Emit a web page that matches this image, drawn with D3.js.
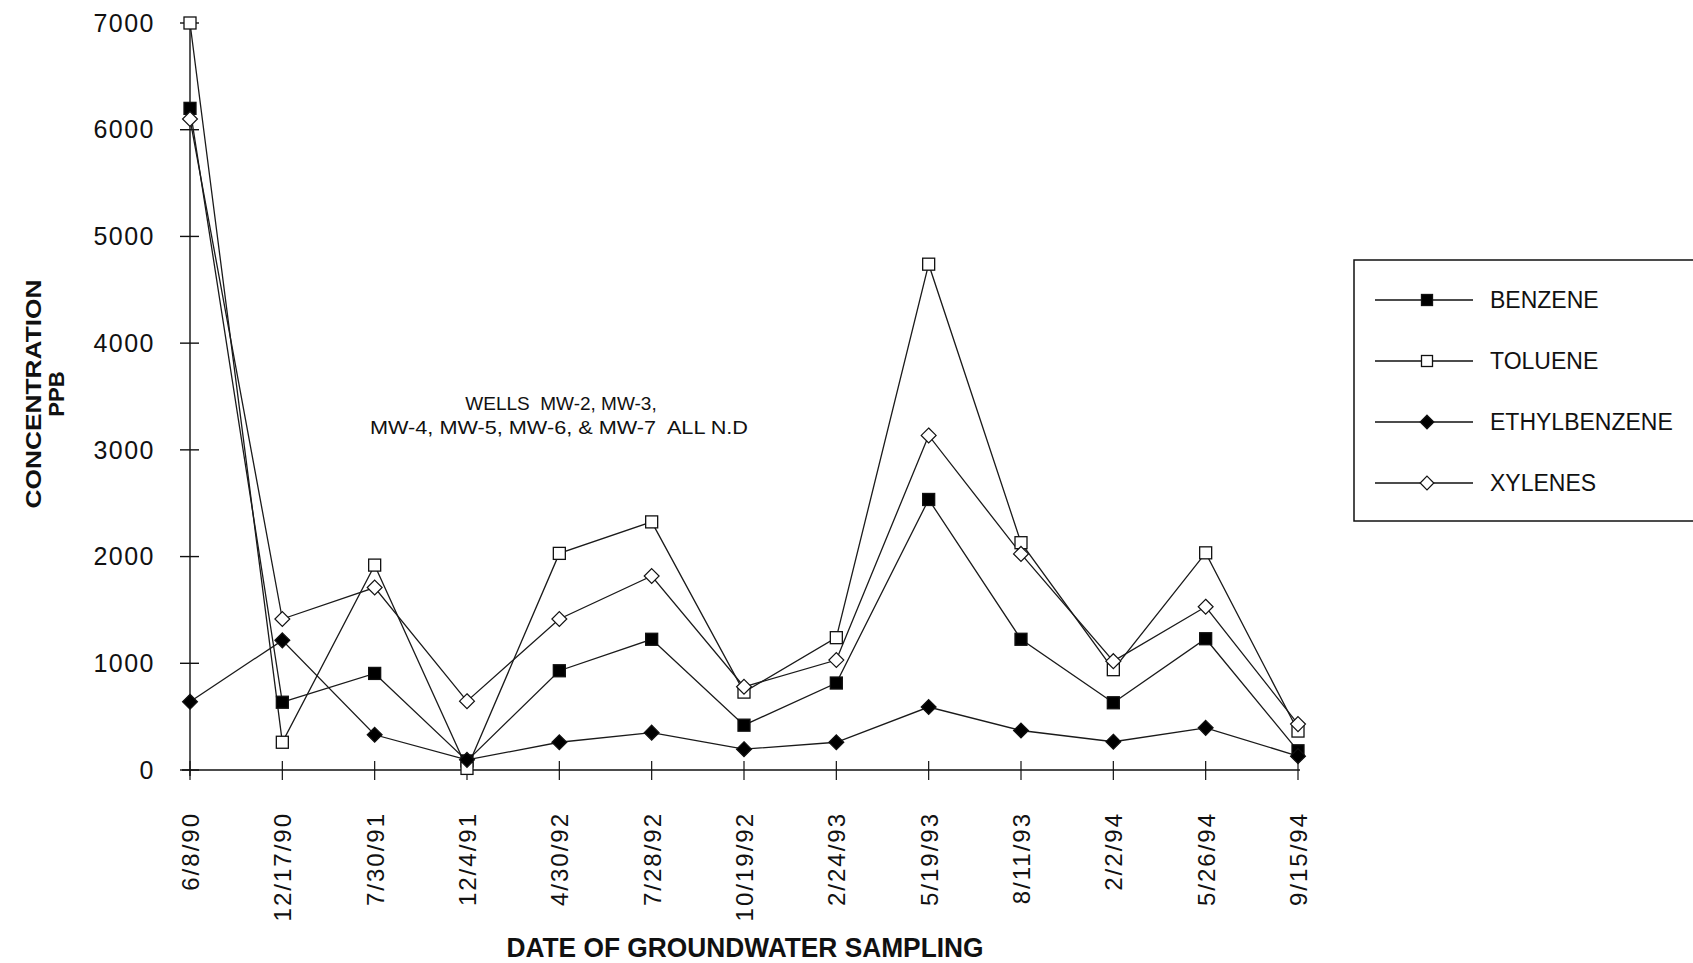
<!DOCTYPE html>
<html>
<head>
<meta charset="utf-8">
<script src="https://cdn.jsdelivr.net/npm/d3@7"></script>
<style>
  html, body { margin: 0; padding: 0; background: #fff; }
  svg { display: block; }
  text { font-family: "Liberation Sans", Arial, Helvetica, sans-serif; fill: #111; }
</style>
</head>
<body>
<svg id="chart" width="1693" height="963"></svg>
<script>
// ---- data ----
const dates = ["6/8/90","12/17/90","7/30/91","12/4/91","4/30/92","7/28/92","10/19/92","2/24/93","5/19/93","8/11/93","2/2/94","5/26/94","9/15/94"];
const benzene      = [6200, 635, 905, 85, 930, 1225, 420, 815, 2535, 1225, 630, 1230, 180];
const toluene      = [7000, 260, 1920, 15, 2030, 2325, 730, 1240, 4740, 2130, 940, 2035, 365];
const ethylbenzene = [640, 1215, 330, 95, 260, 350, 195, 260, 590, 370, 265, 395, 130];
const xylenes      = [6100, 1415, 1710, 645, 1415, 1818, 780, 1030, 3135, 2025, 1020, 1530, 430];
const yTicks = [0, 1000, 2000, 3000, 4000, 5000, 6000, 7000];
const seriesNames = ["BENZENE", "TOLUENE", "ETHYLBENZENE", "XYLENES"];

const series = [
  { name: seriesNames[0], values: benzene,      marker: "square",  fill: "#000" },
  { name: seriesNames[1], values: toluene,      marker: "square",  fill: "#fff" },
  { name: seriesNames[2], values: ethylbenzene, marker: "diamond", fill: "#000" },
  { name: seriesNames[3], values: xylenes,      marker: "diamond", fill: "#fff" }
];

const svg = d3.select("#chart");

const x = d3.scalePoint().domain(dates).range([190, 1298]);
const y = d3.scaleLinear().domain([0, 7000]).range([770, 23]);

// ---- axes ----
const yAxis = svg.append("g").attr("transform", "translate(190,0)");
yAxis.append("line").attr("x1", 0).attr("x2", 0).attr("y1", y(7000) - 2).attr("y2", y(0) + 6)
  .attr("stroke", "#111").attr("stroke-width", 1.4);
yAxis.selectAll(".yt").data(yTicks).enter().append("line")
  .attr("x1", -10).attr("x2", 9).attr("y1", d => y(d)).attr("y2", d => y(d))
  .attr("stroke", "#111").attr("stroke-width", 1.4);
yAxis.selectAll(".yl").data(yTicks).enter().append("text")
  .attr("x", -35).attr("y", d => y(d)).attr("dy", "0.35em")
  .attr("text-anchor", "end").attr("font-size", 25).attr("letter-spacing", 1.5)
  .text(d => d);

const xAxis = svg.append("g").attr("transform", "translate(0,770)");
xAxis.append("line").attr("x1", 182).attr("x2", 1300).attr("y1", 0).attr("y2", 0)
  .attr("stroke", "#111").attr("stroke-width", 1.4);
xAxis.selectAll(".xt").data(dates).enter().append("line")
  .attr("x1", d => x(d)).attr("x2", d => x(d)).attr("y1", -9).attr("y2", 10)
  .attr("stroke", "#111").attr("stroke-width", 1.2);
xAxis.selectAll(".xl").data(dates).enter().append("text")
  .attr("transform", d => `translate(${x(d) + 9},42) rotate(-90)`)
  .attr("text-anchor", "end").attr("font-size", 24).attr("letter-spacing", 2)
  .text(d => d);

// ---- axis titles ----
svg.append("text").attr("transform", "translate(41,394) rotate(-90)")
  .attr("text-anchor", "middle").attr("font-size", 22).attr("font-weight", "bold")
  .attr("textLength", 229).attr("lengthAdjust", "spacingAndGlyphs")
  .text("CONCENTRATION");
svg.append("text").attr("transform", "translate(64,394) rotate(-90)")
  .attr("text-anchor", "middle").attr("font-size", 22).attr("font-weight", "bold")
  .text("PPB");
svg.append("text").attr("x", 745).attr("y", 957)
  .attr("text-anchor", "middle").attr("font-size", 27).attr("font-weight", "bold")
  .attr("textLength", 477).attr("lengthAdjust", "spacingAndGlyphs")
  .text("DATE OF GROUNDWATER SAMPLING");

// ---- annotation ----
svg.append("text").attr("x", 561).attr("y", 410).attr("text-anchor", "middle")
  .attr("font-size", 19).attr("xml:space", "preserve").text("WELLS  MW-2, MW-3,");
svg.append("text").attr("x", 559).attr("y", 434).attr("text-anchor", "middle")
  .attr("font-size", 19).attr("xml:space", "preserve").attr("textLength", 378)
  .attr("lengthAdjust", "spacingAndGlyphs").text("MW-4, MW-5, MW-6, & MW-7  ALL N.D");

// ---- markers ----
function drawMarker(g, kind, fill, cx, cy, size) {
  if (kind === "square") {
    g.append("rect").attr("x", cx - size / 2).attr("y", cy - size / 2)
      .attr("width", size).attr("height", size)
      .attr("fill", fill).attr("stroke", "#111").attr("stroke-width", 1.3);
  } else {
    const r = size * 0.62;
    g.append("path").attr("d", `M${cx},${cy - r}L${cx + r},${cy}L${cx},${cy + r}L${cx - r},${cy}Z`)
      .attr("fill", fill).attr("stroke", "#111").attr("stroke-width", 1.2);
  }
}

const line = d3.line().x((d, i) => x(dates[i])).y(d => y(d));
const plot = svg.append("g");
series.forEach(s => {
  plot.append("path").datum(s.values).attr("d", line)
    .attr("fill", "none").attr("stroke", "#1a1a1a").attr("stroke-width", 1.3);
});
series.forEach(s => {
  const g = plot.append("g");
  s.values.forEach((v, i) => drawMarker(g, s.marker, s.fill, x(dates[i]), y(v), s.marker === "square" ? 12 : 12));
});

// ---- legend ----
const legend = svg.append("g");
legend.append("rect").attr("x", 1354).attr("y", 260).attr("width", 360).attr("height", 261)
  .attr("fill", "none").attr("stroke", "#111").attr("stroke-width", 1.5);
const ly = d3.scalePoint().domain(seriesNames).range([300, 483]);
series.forEach(s => {
  const yy = ly(s.name);
  legend.append("line").attr("x1", 1375).attr("x2", 1473).attr("y1", yy).attr("y2", yy)
    .attr("stroke", "#111").attr("stroke-width", 1.4);
  drawMarker(legend, s.marker, s.fill, 1427, yy, 11);
  legend.append("text").attr("x", 1490).attr("y", yy).attr("dy", "0.36em")
    .attr("font-size", 23).text(s.name);
});
</script>
</body>
</html>
